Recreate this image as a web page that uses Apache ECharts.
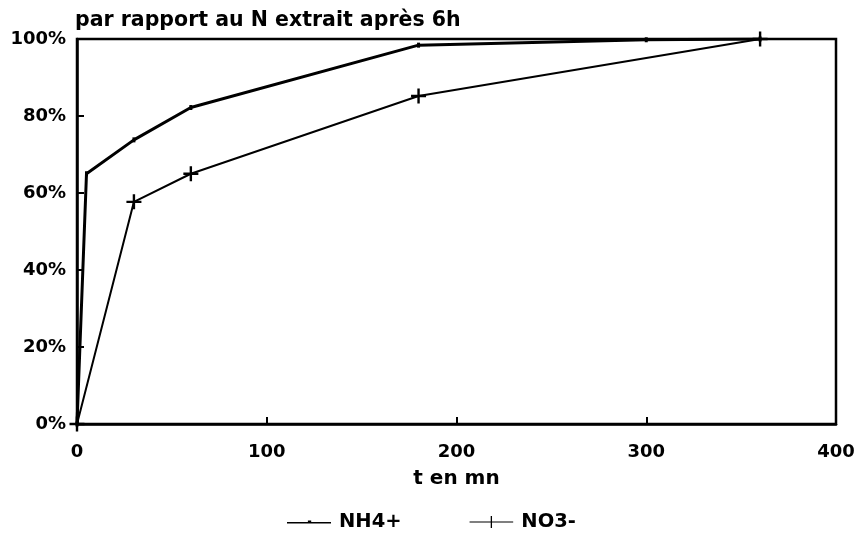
<!DOCTYPE html>
<html>
<head>
<meta charset="utf-8">
<script src="https://cdn.jsdelivr.net/npm/echarts@6/dist/echarts.min.js"></script>
<style>
  html, body { margin: 0; padding: 0; background: #fff; }
  #chart { width: 859px; height: 544px; }
</style>
</head>
<body>
<div id="chart"></div>
<script>
// Time points (minutes) and cumulative N extracted (% of the 6 h value)
const nh4Times  = [0, 5, 30, 60, 180, 300, 360];
const nh4Values = [0, 65, 73.8, 82.2, 98.4, 99.8, 100];
const no3Times  = [0, 30, 60, 180, 360];
const no3Values = [0, 57.7, 65, 85.2, 100];

const xTicks = [0, 100, 200, 300, 400];
const yTicks = [0, 20, 40, 60, 80, 100];

const titleText = 'par rapport au N extrait après 6h';
const xName = 't en mn';
const seriesNames = ['NH4+', 'NO3-'];

const FONT = 'DejaVu Sans';
const crossPath = 'path://M4.2,0 H5.8 V4.2 H10 V5.8 H5.8 V10 H4.2 V5.8 H0 V4.2 H4.2 Z';
const tickPath = 'path://M0.5,0 H1.5 V3 H0.5 Z';
const legendNh4 = 'path://M0,5 H40 V6.2 H0 Z M19,3.6 H22 V6.2 H19 Z';
const legendNo3 = 'path://M0,5 H40 V6 H0 Z M19.4,0 H20.6 V11 H19.4 Z';

const pairs = (xs, ys) => xs.map((x, i) => [x, ys[i]]);

const chart = echarts.init(document.getElementById('chart'), null, { renderer: 'canvas' });
chart.setOption({
  backgroundColor: '#ffffff',
  animation: false,
  title: {
    text: titleText,
    left: 75,
    top: 10,
    padding: 0,
    textStyle: { fontFamily: FONT, fontWeight: 'bold', fontSize: 20.5, color: '#000' }
  },
  grid: {
    left: 77, right: 23, top: 39, bottom: 120,
    show: true, borderColor: '#000', borderWidth: 2.5, backgroundColor: 'transparent'
  },
  xAxis: {
    type: 'value',
    min: xTicks[0], max: xTicks[xTicks.length - 1], interval: 100,
    name: xName,
    nameLocation: 'middle',
    nameGap: 45,
    nameTextStyle: { fontFamily: FONT, fontWeight: 'bold', fontSize: 20, color: '#000' },
    axisLine: { lineStyle: { color: '#000', width: 2.5 } },
    axisTick: { inside: true, length: 7, lineStyle: { color: '#000', width: 2 } },
    axisLabel: { margin: 19, fontFamily: FONT, fontWeight: 'bold', fontSize: 18, color: '#000' },
    splitLine: { show: false }
  },
  yAxis: {
    type: 'value',
    min: yTicks[0], max: yTicks[yTicks.length - 1], interval: 20,
    axisLine: { show: true, lineStyle: { color: '#000', width: 2.5 } },
    axisTick: { show: true, inside: true, length: 7, lineStyle: { color: '#000', width: 2 } },
    axisLabel: { margin: 11, formatter: '{value}%', fontFamily: FONT, fontWeight: 'bold', fontSize: 18, color: '#000' },
    splitLine: { show: false }
  },
  legend: {
    top: 512,
    left: 287,
    padding: 0,
    itemGap: 68,
    itemWidth: 44,
    itemHeight: 12,
    textStyle: { fontFamily: FONT, fontWeight: 'bold', fontSize: 19.5, color: '#000', padding: [0, 0, 0, 3] },
    data: [
      { name: seriesNames[0], icon: legendNh4, itemStyle: { color: '#000' } },
      { name: seriesNames[1], icon: legendNo3, itemStyle: { color: '#000' } }
    ]
  },
  series: [
    {
      name: seriesNames[0],
      type: 'line',
      data: pairs(nh4Times, nh4Values),
      symbol: tickPath,
      symbolSize: [3, 5],
      showSymbol: true,
      lineStyle: { color: '#000', width: 3 },
      itemStyle: { color: '#000' }
    },
    {
      name: seriesNames[1],
      type: 'line',
      data: pairs(no3Times, no3Values),
      symbol: crossPath,
      symbolSize: 15,
      showSymbol: true,
      lineStyle: { color: '#000', width: 2 },
      itemStyle: { color: '#000' }
    }
  ]
});
</script>
</body>
</html>
